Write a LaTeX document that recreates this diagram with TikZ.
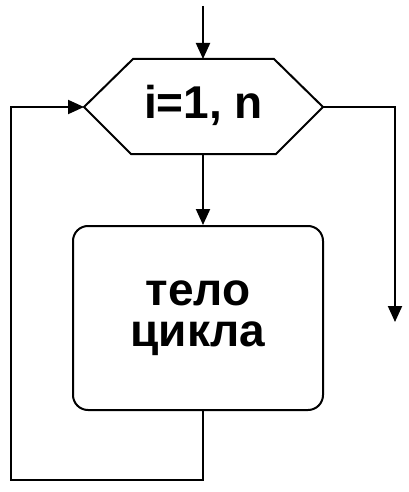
\documentclass[tikz,border=0pt]{standalone}
\usepackage{fontspec}
\setsansfont{Liberation Sans}
\usetikzlibrary{arrows.meta}
\tikzstyle{line}=[draw=black,line width=2pt]
\tikzstyle{arr}=[line,-{Triangle[length=16pt,width=14pt]}]
\tikzstyle{big}=[font=\sffamily\bfseries\fontsize{46}{41}\selectfont]
\tikzstyle{bodybox}=[line,rounded corners=15pt,inner sep=0pt,
                     minimum width=250pt,minimum height=184pt,align=center]

\begin{document}
\begin{tikzpicture}[x=1pt,y=-1pt]
    \useasboundingbox (0,0) rectangle (408,492);
    % loop header
    \coordinate (hw) at (84,107);
    \coordinate (he) at (323,107);
    \coordinate (hn) at (203,59);
    \coordinate (hs) at (203,154);
    \draw[line] (hw) -- (133,59) -- (274,59) -- (he) -- (276,154) -- (131,154) -- cycle;
    \node (head) at (203.5,105) [big]{i=1, n};
    % loop body
    \node (body) at (198,318) [bodybox,big]{тело\\цикла};
    \coordinate (in) at (203,6);
    \coordinate (back) at (11,480);
    \coordinate (out) at (395,322);
    \draw[arr] (in) -- (hn);
    \draw[arr] (hs) -- (hs |- body.north);
    \draw[arr] (body.south -| hs) |- (back) |- (hw);
    \draw[arr] (he) -| (out);
  \end{tikzpicture}
\end{document}
